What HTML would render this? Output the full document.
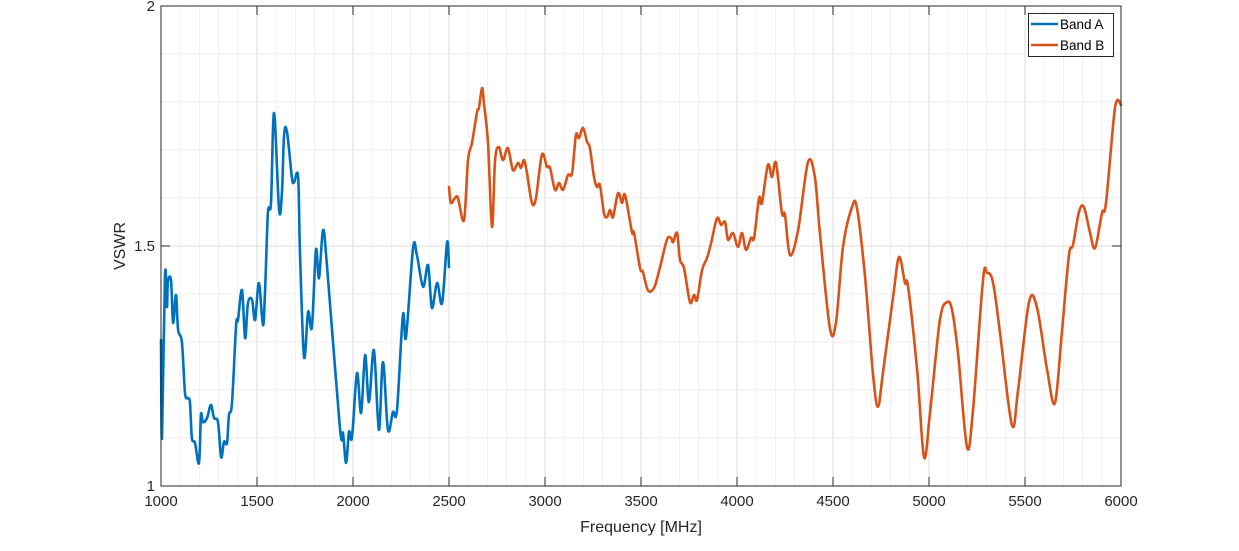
<!DOCTYPE html>
<html><head><meta charset="utf-8">
<style>
html,body{margin:0;padding:0;background:#fff;}
svg{display:block;font-family:"Liberation Sans",Arial,sans-serif;}
</style></head>
<body>
<svg id="chart" width="1239" height="551" viewBox="0 0 1239 551" xmlns="http://www.w3.org/2000/svg">
<rect x="0" y="0" width="1239" height="551" fill="#fff"/>
<g id="grid"></g>
<g id="series"></g>
<g id="axes"></g>
<text x="0" y="0" transform="translate(125,246) rotate(-90)" text-anchor="middle" font-size="16" fill="#262626">VSWR</text>
<text x="641" y="532" text-anchor="middle" font-size="16" fill="#262626">Frequency [MHz]</text>
<g>
<rect x="1028.5" y="13.5" width="85" height="43" fill="#fff" stroke="#262626" stroke-width="1"/>
<line x1="1031" y1="24" x2="1058" y2="24" stroke="#0072BD" stroke-width="2.5"/>
<text x="1060" y="29" font-size="13.5" fill="#000">Band A</text>
<line x1="1031" y1="45" x2="1058" y2="45" stroke="#D95319" stroke-width="2.5"/>
<text x="1060" y="50" font-size="13.5" fill="#000">Band B</text>
</g>
</svg>
<script>
const xTicks=[1000,1500,2000,2500,3000,3500,4000,4500,5000,5500,6000];
const yTicks=[1,1.5,2];
const yTickLabels=["1","1.5","2"];
const bandAFreq=[1000,1005,1021,1031,1036,1052,1063,1078,1089,1109,1125,1141,1151,1161,1177,1198,1208,1219,1240,1260,1276,1297,1313,1328,1344,1354,1370,1391,1401,1422,1438,1453,1474,1490,1510,1531,1542,1557,1573,1589,1615,1630,1641,1656,1682,1693,1714,1724,1745,1766,1786,1807,1823,1844,1865,1932,1948,1964,1979,1995,2021,2042,2063,2083,2109,2135,2156,2182,2208,2229,2260,2276,2313,2333,2365,2391,2411,2438,2464,2490,2500];
const bandAVswr=[1.304,1.100,1.440,1.373,1.425,1.429,1.340,1.398,1.325,1.300,1.194,1.183,1.173,1.100,1.090,1.048,1.148,1.133,1.142,1.169,1.142,1.133,1.060,1.092,1.090,1.148,1.173,1.335,1.346,1.408,1.308,1.381,1.388,1.346,1.423,1.335,1.408,1.569,1.590,1.777,1.575,1.613,1.731,1.738,1.642,1.633,1.644,1.485,1.269,1.363,1.331,1.492,1.433,1.533,1.456,1.121,1.110,1.048,1.113,1.102,1.235,1.152,1.273,1.175,1.283,1.117,1.258,1.117,1.154,1.158,1.356,1.310,1.496,1.481,1.415,1.460,1.371,1.423,1.381,1.508,1.456];
const bandBFreq=[2500,2510,2531,2547,2578,2599,2620,2646,2656,2672,2682,2703,2724,2740,2760,2781,2807,2833,2859,2875,2891,2906,2932,2953,2984,3010,3026,3052,3073,3094,3120,3141,3161,3177,3198,3219,3234,3255,3271,3286,3307,3323,3339,3354,3380,3401,3417,3453,3464,3495,3510,3536,3568,3599,3635,3656,3667,3688,3703,3724,3755,3776,3792,3818,3844,3865,3896,3917,3938,3953,3979,4005,4026,4047,4073,4089,4115,4130,4161,4182,4203,4234,4250,4276,4318,4370,4406,4432,4484,4516,4552,4599,4625,4667,4708,4734,4760,4813,4844,4875,4891,4938,4974,5005,5057,5094,5120,5151,5198,5229,5281,5302,5333,5370,5432,5464,5521,5563,5615,5656,5693,5729,5750,5781,5807,5839,5865,5901,5922,5969,6000];
const bandBVswr=[1.623,1.590,1.600,1.600,1.554,1.679,1.715,1.779,1.788,1.829,1.798,1.715,1.540,1.679,1.706,1.679,1.704,1.658,1.673,1.663,1.679,1.652,1.590,1.600,1.690,1.665,1.663,1.617,1.631,1.617,1.648,1.652,1.731,1.725,1.746,1.717,1.704,1.644,1.623,1.627,1.569,1.560,1.575,1.560,1.610,1.590,1.606,1.529,1.527,1.454,1.446,1.408,1.413,1.456,1.513,1.517,1.508,1.527,1.471,1.454,1.383,1.398,1.388,1.450,1.475,1.506,1.558,1.544,1.550,1.513,1.527,1.498,1.527,1.492,1.517,1.517,1.600,1.590,1.669,1.644,1.673,1.569,1.565,1.481,1.533,1.675,1.642,1.527,1.329,1.342,1.498,1.581,1.579,1.435,1.235,1.165,1.235,1.394,1.477,1.423,1.415,1.242,1.060,1.152,1.346,1.383,1.367,1.277,1.081,1.158,1.429,1.444,1.425,1.319,1.127,1.200,1.383,1.371,1.242,1.173,1.325,1.481,1.502,1.571,1.581,1.527,1.496,1.569,1.590,1.788,1.794];

const NS='http://www.w3.org/2000/svg';
const L=161,R=1121,T=6,B=486;
const xMin=1000,xMax=6000,yMin=1,yMax=2;
function xs(v){return L+(v-xMin)/(xMax-xMin)*(R-L);}
function ys(v){return B-(v-yMin)/(yMax-yMin)*(B-T);}
function mk(tag,attrs,parent){const e=document.createElementNS(NS,tag);for(const k in attrs)e.setAttribute(k,attrs[k]);parent.appendChild(e);return e;}
const grid=document.getElementById('grid'),axes=document.getElementById('axes'),series=document.getElementById('series');
for(let f=xMin;f<=xMax;f+=100){const l=mk('line',{x1:xs(f),x2:xs(f),y1:T,y2:B,stroke:(f%500===0)?'#dcdcdc':'#efefef','stroke-width':1},grid);

}
for(let i=0;i<=10;i++){const v=yMin+i*0.1;
const l=mk('line',{x1:L,x2:R,y1:ys(v),y2:ys(v),stroke:(i%5===0)?'#dcdcdc':'#efefef','stroke-width':1},grid);

}
function smoothPath(px){let d='M'+px[0][0].toFixed(1)+','+px[0][1].toFixed(1);
for(let i=0;i<px.length-1;i++){const p0=px[Math.max(0,i-1)],p1=px[i],p2=px[i+1],p3=px[Math.min(px.length-1,i+2)];
const c1x=p1[0]+(p2[0]-p0[0])/6,c1y=p1[1]+(p2[1]-p0[1])/6,c2x=p2[0]-(p3[0]-p1[0])/6,c2y=p2[1]-(p3[1]-p1[1])/6;
d+=' C'+c1x.toFixed(1)+','+c1y.toFixed(1)+' '+c2x.toFixed(1)+','+c2y.toFixed(1)+' '+p2[0].toFixed(1)+','+p2[1].toFixed(1);}
return d;}
function drawLine(fx,vy,color,name){const px=fx.map((f,i)=>[xs(f),ys(vy[i])]);
const p=mk('path',{d:smoothPath(px),fill:'none',stroke:color,'stroke-width':2.6,'stroke-linejoin':'round','stroke-linecap':'round'},series);

}
drawLine(bandAFreq,bandAVswr,'#0072BD','band-a-line');
drawLine(bandBFreq,bandBVswr,'#D95319','band-b-line');
const box=mk('rect',{x:L,y:T,width:R-L,height:B-T,fill:'none',stroke:'#262626','stroke-width':1},axes);


xTicks.forEach(f=>{const x=xs(f);
const t=mk('line',{x1:x,x2:x,y1:B,y2:B-9,stroke:'#262626','stroke-width':1},axes);


const t2=mk('line',{x1:x,x2:x,y1:T,y2:T+9,stroke:'#262626','stroke-width':1},axes);


const tx=mk('text',{x:x,y:B+20,'text-anchor':'middle','font-size':15,fill:'#262626'},axes);tx.textContent=String(f);

});
yTicks.forEach((v,i)=>{const y=ys(v);
const t=mk('line',{x1:L,x2:L+9,y1:y,y2:y,stroke:'#262626','stroke-width':1},axes);


const t2=mk('line',{x1:R,x2:R-9,y1:y,y2:y,stroke:'#262626','stroke-width':1},axes);


const tx=mk('text',{x:L-6,y:y+5,'text-anchor':'end','font-size':15,fill:'#262626'},axes);tx.textContent=yTickLabels[i];

});
</script>
</body></html>
